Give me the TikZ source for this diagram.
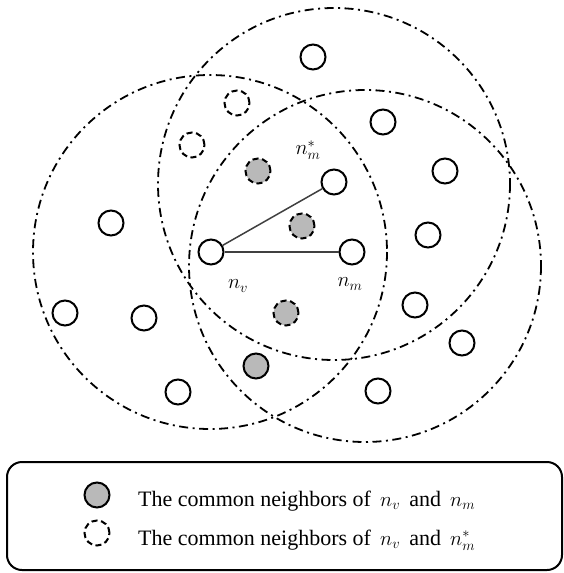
\documentclass[tikz,border=0pt]{standalone}
\usepackage{fontspec}
\setmainfont{Liberation Serif}
\begin{document}
\begin{tikzpicture}[x=1pt,y=-1pt,
  bigring/.style={draw=black,line width=1.8pt,dash pattern=on 9pt off 4.5pt on 2pt off 4.5pt},
  wnode/.style={circle,draw=black,line width=2pt,fill=white,minimum size=25pt,inner sep=0pt},
  dnode/.style={wnode,dash pattern=on 6pt off 3.5pt},
  gdnode/.style={dnode,fill=gray!55},
  gnode/.style={wnode,fill=gray!55},
  lbl/.style={font=\fontsize{22}{26}\selectfont},
  legtxt/.style={anchor=base west,font=\fontsize{22}{26}\selectfont,inner sep=0pt},
  link/.style={draw=black!75,line width=1.5pt}]
\useasboundingbox (0,0) rectangle (564,573);
% big neighbourhood circles
\draw[bigring] (210,252) circle[radius=177];
\draw[bigring] (334,184) circle[radius=176];
\draw[bigring] (365,266) circle[radius=176];
% main nodes and connectors
\node[wnode] (nv) at (211,252) {};
\node[wnode] (nm) at (352,252) {};
\node[wnode] (nms) at (334,182) {};
\draw[link] (nv) -- (nms);
\draw[link] (nv) -- (nm);
% white nodes
\node[wnode] (w1) at (313,57) {};
\node[wnode] (w2) at (383,122) {};
\node[wnode] (w3) at (445,171) {};
\node[wnode] (w4) at (111,223) {};
\node[wnode] (w5) at (428,235) {};
\node[wnode] (w6) at (65,313) {};
\node[wnode] (w7) at (144,318) {};
\node[wnode] (w8) at (415,305) {};
\node[wnode] (w9) at (462,343) {};
\node[wnode] (w10) at (178,392) {};
\node[wnode] (w11) at (378,391) {};
% dashed white nodes
\node[dnode] (d1) at (237,103) {};
\node[dnode] (d2) at (192,145) {};
% gray dashed nodes
\node[gdnode] (g1) at (258,171) {};
\node[gdnode] (g2) at (302,226) {};
\node[gdnode] (g3) at (286,313) {};
% gray solid node
\node[gnode] (s1) at (256,366) {};
% labels
\node[lbl] (lnms) at (308,150) {$n_m^{*}$};
\node[lbl] (lnv) at (238,286) {$n_v$};
\node[lbl] (lnm) at (350,284) {$n_m$};
% legend
\draw[line width=2pt,rounded corners=15pt] (7,462) rectangle (562,570);
\node[gnode] (leg1) at (97,495) {};
\node[dnode] (leg2) at (97,533) {};
\node[legtxt] (t1) at (138,506) {The common neighbors of \,$n_v$\, and \,$n_m$};
\node[legtxt] (t2) at (138,545) {The common neighbors of \,$n_v$\, and \,$n_m^{*}$};
\end{tikzpicture}
\end{document}
